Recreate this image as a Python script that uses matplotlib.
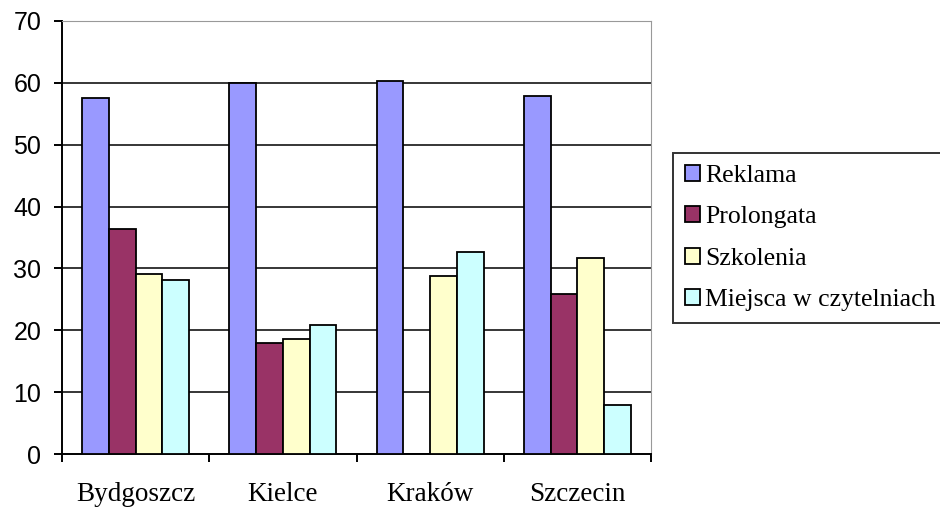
import matplotlib.pyplot as plt
import numpy as np

# data
miasta = ["Bydgoszcz", "Kielce", "Kraków", "Szczecin"]
serie = ["Reklama", "Prolongata", "Szkolenia", "Miejsca w czytelniach"]
reklama = [57.6, 59.9, 60.3, 57.9]
prolongata = [36.3, 18.0, 0.0, 25.9]
szkolenia = [29.1, 18.6, 28.8, 31.7]
miejsca = [28.1, 20.9, 32.7, 8.0]
kolory = ["#9999FF", "#993366", "#FFFFCC", "#CCFFFF"]

wartosci = [reklama, prolongata, szkolenia, miejsca]

fig = plt.figure(figsize=(9.4, 5.07), dpi=100)
ax = fig.add_axes([62 / 940, 1 - 454 / 507, (651 - 62) / 940, (454 - 21) / 507])

x = np.arange(len(miasta))
w = 1 / 5.5  # excel gap width 150%
for j, (nazwa, vals, kol) in enumerate(zip(serie, wartosci, kolory)):
    ax.bar(x + (j - 1.5) * w, vals, width=w, color=kol, edgecolor="black",
           linewidth=1.3, label=nazwa, zorder=3)

ax.set_xlim(-0.5, 3.5)
ax.set_ylim(0, 70)
ax.set_yticks(range(0, 71, 10))

# gridlines only for the inner ticks
for yv in range(10, 70, 10):
    ax.axhline(yv, color="black", linewidth=1.1, zorder=1)

ax.spines["top"].set_color("#999999")
ax.spines["right"].set_color("#999999")
ax.spines["left"].set_linewidth(1.4)
ax.spines["bottom"].set_linewidth(1.4)

# boundary ticks on x, labels centred between them
ax.set_xticks(np.arange(-0.5, 4, 1))
ax.set_xticklabels([])
ax.set_xticks(x, minor=True)
ax.set_xticklabels(miasta, minor=True, family="Liberation Serif", fontsize=19.5)
ax.tick_params(axis="x", which="major", direction="out", length=6, width=1.4)
ax.tick_params(axis="x", which="minor", length=0, pad=20)
ax.tick_params(axis="y", direction="out", length=6, width=1.4, pad=9)
for t in ax.get_yticklabels():
    t.set_family("Liberation Sans")
    t.set_fontsize(18)

# legend box runs off the right edge, text stays inside
leg = fig.legend(loc="upper left", bbox_to_anchor=(673 / 940, 1 - 153 / 507),
                 prop={"family": "Liberation Serif", "size": 18.5},
                 frameon=True, fancybox=False, edgecolor="black",
                 handlelength=0.6, handleheight=0.6, handletextpad=0.2,
                 labelspacing=0.75, borderpad=0.45, borderaxespad=0)
leg.get_frame().set_linewidth(1.4)

fig.savefig("out.png", dpi=100)
